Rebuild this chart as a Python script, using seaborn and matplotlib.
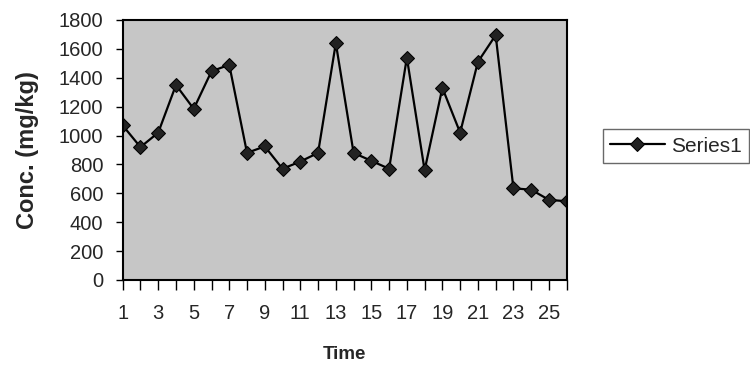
import matplotlib
matplotlib.use("Agg")
import matplotlib.pyplot as plt
import seaborn as sns
import pandas as pd

time = list(range(1, 27))
conc = [1070, 920, 1020, 1350, 1185, 1445, 1490, 880, 925, 770,
        820, 880, 1640, 880, 825, 770, 1540, 760, 1330, 1020,
        1510, 1695, 635, 625, 555, 545]
series_name = "Series1"
x_labels = [str(t) if t % 2 == 1 else "" for t in time]
y_ticks = [0, 200, 400, 600, 800, 1000, 1200, 1400, 1600, 1800]

sns.set_style("white")
plt.rcParams['font.family'] = ['Liberation Sans', 'DejaVu Sans']

df = pd.DataFrame({"Time": time, "Conc": conc, "Series": series_name})

fig = plt.figure(figsize=(7.5, 3.69), dpi=100)
ax = fig.add_axes([0.1636, 0.2412, 0.592, 0.7046])
ax.set_facecolor("#c6c6c6")

sns.lineplot(data=df, x="Time", y="Conc", hue="Series", palette=["black"],
             marker="D", markersize=7.5, markerfacecolor="#222222",
             markeredgecolor="black", linewidth=1.6, ax=ax, legend=True)

ax.set_xlim(1, 26)
ax.set_ylim(0, 1800)
ax.set_xticks(time)
ax.set_xticklabels(x_labels)
ax.set_yticks(y_ticks)
ax.tick_params(axis="both", direction="out", width=1, color="black",
               labelsize=14.5, bottom=True, left=True)
ax.tick_params(axis="y", pad=9, length=5)
ax.tick_params(axis="x", pad=10, length=7)
for s in ax.spines.values():
    s.set_color("black")
    s.set_linewidth(1.5)

ax.set_xlabel("Time", fontsize=13.5, fontweight="bold", labelpad=17)
ax.set_ylabel("Conc. (mg/kg)", fontsize=17, fontweight="bold", labelpad=14)

leg = ax.legend(loc="center left", bbox_to_anchor=(1.082, 0.515), frameon=True,
                fancybox=False, fontsize=15, handlelength=2.6,
                borderpad=0.35, borderaxespad=0, handletextpad=0.3,
                edgecolor="#444444")
leg.get_frame().set_linewidth(1.0)

fig.savefig("out.png", dpi=100)
